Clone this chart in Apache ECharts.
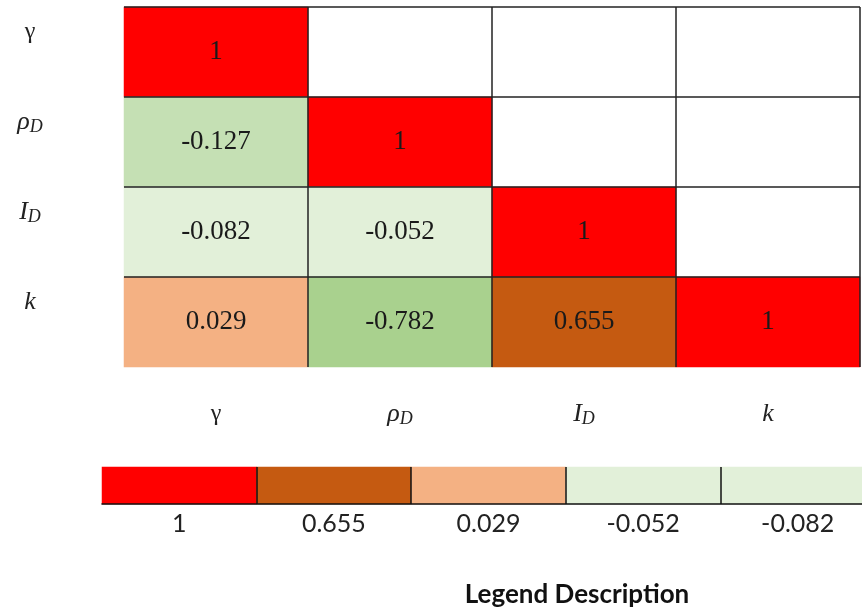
<!DOCTYPE html>
<html>
<head>
<meta charset="utf-8">
<script src="https://cdn.jsdelivr.net/npm/echarts@6/dist/echarts.min.js"></script>
<style>
  html, body { margin: 0; padding: 0; background: #fff; overflow: hidden; }
  /* the canvas is a little wider than the window so the legend strip runs off the right edge */
  #chart { width: 876px; height: 609px; }
</style>
</head>
<body>
<div id="chart"></div>
<script>
// Variables of the correlation matrix ("_X" marks a subscript)
const variables = ['γ', 'ρ_D', 'I_D', 'k'];

// Lower-triangle correlation coefficients, one array per row
const rowGamma = [1];
const rowRhoD = [-0.127, 1];
const rowID = [-0.082, -0.052, 1];
const rowK = [0.029, -0.782, 0.655, 1];

// Legend strip values
const legendValues = [1, 0.655, 0.029, -0.052, -0.082];

// Colour assigned to each coefficient
const colourPieces = [
  { value: 1, color: '#FF0000' },
  { value: 0.655, color: '#C55A11' },
  { value: 0.029, color: '#F4B183' },
  { value: -0.052, color: '#E2F0D9' },
  { value: -0.082, color: '#E2F0D9' },
  { value: -0.127, color: '#C5E0B4' },
  { value: -0.782, color: '#A9D18E' }
];

const rows = [rowGamma, rowRhoD, rowID, rowK];
const cells = [];
rows.forEach((row, r) => {
  row.forEach((v, c) => cells.push([c, r, v]));
});
const legendCells = legendValues.map((v, i) => [i, 0, v]);

// Turn "ρ_D" into rich text with a subscript
function varLabel(name) {
  const parts = name.split('_');
  const main = parts[0] === 'γ' ? '{g|γ}' : '{m|' + parts[0] + '}';
  return parts.length > 1 ? main + '{s|' + parts[1] + '}' : main;
}
const varRich = {
  g: { fontFamily: 'Liberation Serif', fontSize: 24, color: '#222', lineHeight: 28 },
  m: { fontFamily: 'Liberation Serif', fontStyle: 'italic', fontSize: 26, color: '#222', lineHeight: 28 },
  s: { fontFamily: 'Liberation Serif', fontStyle: 'italic', fontSize: 18, color: '#222', lineHeight: 28, verticalAlign: 'bottom', padding: [12, 0, 0, 0] }
};

const chart = echarts.init(document.getElementById('chart'), null, { renderer: 'canvas' });

chart.setOption({
  backgroundColor: '#ffffff',
  animation: false,
  title: {
    text: 'Legend Description',
    left: 572,
    top: 577,
    textAlign: 'center',
    textStyle: { fontFamily: 'Lato', fontWeight: 'bold', fontSize: 26, color: '#111' }
  },
  grid: [
    { left: 124, top: 7, width: 736, height: 360 },
    { left: 102, top: 467, width: 773, height: 37 }
  ],
  xAxis: [
    {
      type: 'category', gridIndex: 0, data: variables, z: 5,
      axisLine: { show: false }, axisTick: { show: false },
      axisLabel: { formatter: varLabel, rich: varRich, margin: 33 },
      splitLine: { show: true, showMinLine: false, showMaxLine: true, lineStyle: { color: '#222', width: 1.5 } }
    },
    {
      type: 'category', gridIndex: 1, data: legendValues.map(String), z: 5,
      axisLine: { show: true, lineStyle: { color: '#111', width: 1.5 } },
      axisTick: { show: false },
      axisLabel: { margin: 7, fontFamily: 'Lato', fontSize: 25, color: '#222' },
      splitLine: { show: true, showMinLine: false, showMaxLine: false, lineStyle: { color: '#111', width: 1.5 } }
    }
  ],
  yAxis: [
    {
      type: 'category', gridIndex: 0, data: variables, inverse: true, z: 5,
      axisLine: { show: false }, axisTick: { show: false },
      axisLabel: { formatter: varLabel, rich: varRich, align: 'center', margin: 94, padding: [0, 0, 40, 0] },
      splitLine: { show: true, showMinLine: true, showMaxLine: false, lineStyle: { color: '#222', width: 1.5 } }
    },
    {
      type: 'category', gridIndex: 1, data: [''],
      axisLine: { show: false }, axisTick: { show: false }, axisLabel: { show: false },
      splitLine: { show: false }
    }
  ],
  visualMap: {
    type: 'piecewise', show: false, seriesIndex: [0, 1], dimension: 2,
    pieces: colourPieces
  },
  series: [
    {
      type: 'heatmap', xAxisIndex: 0, yAxisIndex: 0, data: cells,
      label: {
        show: true, formatter: p => String(p.value[2]),
        fontFamily: 'Liberation Serif', fontSize: 27, color: '#1a1a1a'
      },
      emphasis: { disabled: true }
    },
    {
      type: 'heatmap', xAxisIndex: 1, yAxisIndex: 1, data: legendCells,
      label: { show: false },
      emphasis: { disabled: true }
    }
  ]
});
</script>
</body>
</html>
